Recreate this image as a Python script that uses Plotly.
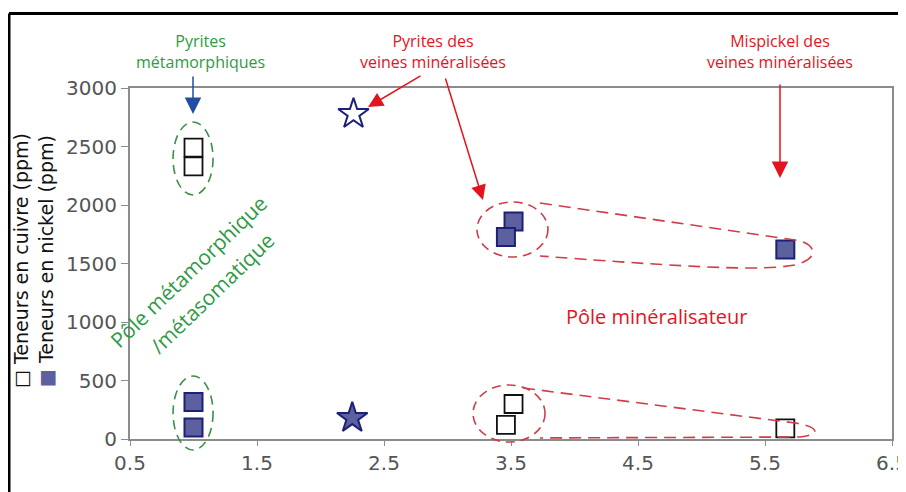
import plotly.graph_objects as go

# ---------------- data ----------------
sq_cu_x = [1.0, 1.0, 3.52, 3.46, 5.66]
sq_cu_y = [2490, 2330, 299, 120, 90]
sq_ni_x = [1.0, 1.0, 3.52, 3.46, 5.66]
sq_ni_y = [316, 98, 1859, 1726, 1620]
star_cu_x = [2.26]
star_cu_y = [2778]
star_ni_x = [2.25]
star_ni_y = [180]

x_ticks = [0.5, 1.5, 2.5, 3.5, 4.5, 5.5, 6.5]
x_tick_text = ["0.5", "1.5", "2.5", "3.5", "4.5", "5.5", "6.5"]
y_ticks = [0, 500, 1000, 1500, 2000, 2500, 3000]
X_RANGE = [0.5, 6.5]
Y_RANGE = [0, 3000]

# ---------------- layout geometry ----------------
OFF = 8                      # page offset of the figure inside the window
W, H = 906 - OFF, 492 - OFF
ML, MR, MT, MB = 130 - OFF, 14, 88 - OFF, 53
PW, PH = W - ML - MR, H - MT - MB


def PX(px):  # window pixel -> paper
    return (px - OFF - ML) / PW


def PY(py):
    return (H - MB - (py - OFF)) / PH


def DX(x):  # data -> paper
    return (x - X_RANGE[0]) / (X_RANGE[1] - X_RANGE[0])


def DY(y):
    return (y - Y_RANGE[0]) / (Y_RANGE[1] - Y_RANGE[0])


def pt(x, y):
    return f"{DX(x):.5f},{DY(y):.5f}"


NAVY = "#1c2078"
FILL = "#5d609f"
GREEN = "#2f9a45"
GREEN_D = "#3d8f4c"
RED = "#e3141e"
RED_D = "#cf3c4a"
TXT_FONT = "Open Sans"

fig = go.Figure()

fig.add_trace(go.Scatter(x=sq_cu_x, y=sq_cu_y, mode="markers", name="Cu",
                         marker=dict(symbol="square", size=18, color="white",
                                     line=dict(color="#111111", width=1.8)),
                         cliponaxis=False))
fig.add_trace(go.Scatter(x=sq_ni_x, y=sq_ni_y, mode="markers", name="Ni",
                         marker=dict(symbol="square", size=18, color=FILL,
                                     line=dict(color=NAVY, width=2)),
                         cliponaxis=False))
fig.add_trace(go.Scatter(x=star_cu_x, y=star_cu_y, mode="markers", name="Cu star",
                         marker=dict(symbol="star", size=23, color="white",
                                     line=dict(color=NAVY, width=2)),
                         cliponaxis=False))
fig.add_trace(go.Scatter(x=star_ni_x, y=star_ni_y, mode="markers", name="Ni star",
                         marker=dict(symbol="star", size=23, color=FILL,
                                     line=dict(color=NAVY, width=2)),
                         cliponaxis=False))

shapes = []
# outer black border
shapes.append(dict(type="line", xref="paper", yref="paper", layer="below",
                   x0=PX(9), y0=PY(13.5), x1=PX(930), y1=PY(13.5),
                   line=dict(color="black", width=3)))
shapes.append(dict(type="line", xref="paper", yref="paper", layer="below",
                   x0=PX(9), y0=PY(13.5), x1=PX(9), y1=PY(520),
                   line=dict(color="black", width=3)))


def ellipse(x0, x1, y0, y1, color):
    return dict(type="circle", xref="paper", yref="paper",
                x0=DX(x0), x1=DX(x1), y0=DY(y0), y1=DY(y1),
                line=dict(color=color, width=1.6, dash="9px,6px"))


shapes.append(ellipse(0.839, 1.154, 2085, 2709, GREEN_D))
shapes.append(ellipse(0.839, 1.154, -94, 538, GREEN_D))
shapes.append(ellipse(3.232, 3.791, 1556, 2026, RED_D))
shapes.append(ellipse(3.201, 3.768, -26, 462, RED_D))

upper_tail = (f"M{pt(3.728, 2017)} L{pt(5.736, 1701)} "
              f"C{pt(5.894, 1675)} {pt(5.949, 1547)} {pt(5.736, 1487)} "
              f"C{pt(5.461, 1436)} {pt(4.988, 1462)} {pt(3.728, 1564)}")
lower_tail = (f"M{pt(3.594, 436)} L{pt(5.736, 137)} "
              f"C{pt(5.894, 111)} {pt(5.972, 43)} {pt(5.776, 17)} "
              f"L{pt(3.728, 9)}")
for p in (upper_tail, lower_tail):
    shapes.append(dict(type="path", xref="paper", yref="paper", path=p,
                       line=dict(color=RED_D, width=1.6, dash="12px,7px")))

annotations = []


def text(px, py, s, color, size, angle=0, family=TXT_FONT):
    annotations.append(dict(xref="paper", yref="paper", x=PX(px), y=PY(py),
                            text=s, showarrow=False, textangle=angle,
                            xanchor="center", yanchor="middle",
                            font=dict(family=family, size=size, color=color)))


def arrow(hx, hy, tx, ty, color, size=1.4):
    annotations.append(dict(xref="paper", yref="paper", x=PX(hx), y=PY(hy),
                            ax=tx - hx, ay=ty - hy, text="", showarrow=True,
                            arrowhead=2, arrowsize=size, arrowwidth=1.5,
                            arrowcolor=color, standoff=0))


text(200, 51, "Pyrites<br>métamorphiques", GREEN, 16)
text(433, 51, "Pyrites des<br>veines minéralisées", RED, 16)
text(780, 51, "Mispickel des<br>veines minéralisées", RED, 16)
text(656, 316, "Pôle minéralisateur", RED, 20)
text(188, 272, "Pôle métamorphique", GREEN, 21, angle=-44)
text(212, 293, "/métasomatique", GREEN, 21, angle=-44)

arrow(193, 114, 193, 75, "#1f4fa3", 2.2)
arrow(368, 107, 422, 75, RED, 2.0)
arrow(483, 200, 445, 77, RED, 2.0)
arrow(780, 178, 780, 83, RED, 2.2)

# y-axis legend-style titles
text(21, 261, "□ Teneurs en cuivre (ppm)", "#111111", 19, angle=-90,
     family="DejaVu Sans")
text(46, 261, f"<span style='color:{FILL}'>■</span> Teneurs en nickel (ppm)",
     "#111111", 19, angle=-90, family="DejaVu Sans")

fig.update_layout(
    width=W, height=H,
    margin=dict(l=ML, r=MR, t=MT, b=MB, autoexpand=False),
    paper_bgcolor="white", plot_bgcolor="white",
    showlegend=False,
    shapes=shapes, annotations=annotations,
    xaxis=dict(range=X_RANGE, tickvals=x_ticks, ticktext=x_tick_text,
               showgrid=False, zeroline=False, showline=True, mirror=True,
               linecolor="#8c8c8c", linewidth=2, ticks="outside", ticklen=5,
               tickcolor="#8c8c8c", ticklabeloverflow="allow", automargin=False,
               tickfont=dict(family="DejaVu Sans", size=20, color="#555555")),
    yaxis=dict(range=Y_RANGE, tickvals=y_ticks, automargin=False,
               showgrid=False, zeroline=False, showline=True, mirror=True,
               linecolor="#8c8c8c", linewidth=2, ticks="outside", ticklen=7,
               tickcolor="#8c8c8c",
               tickfont=dict(family="DejaVu Sans", size=20, color="#555555")),
)

fig.write_html("out.html")
